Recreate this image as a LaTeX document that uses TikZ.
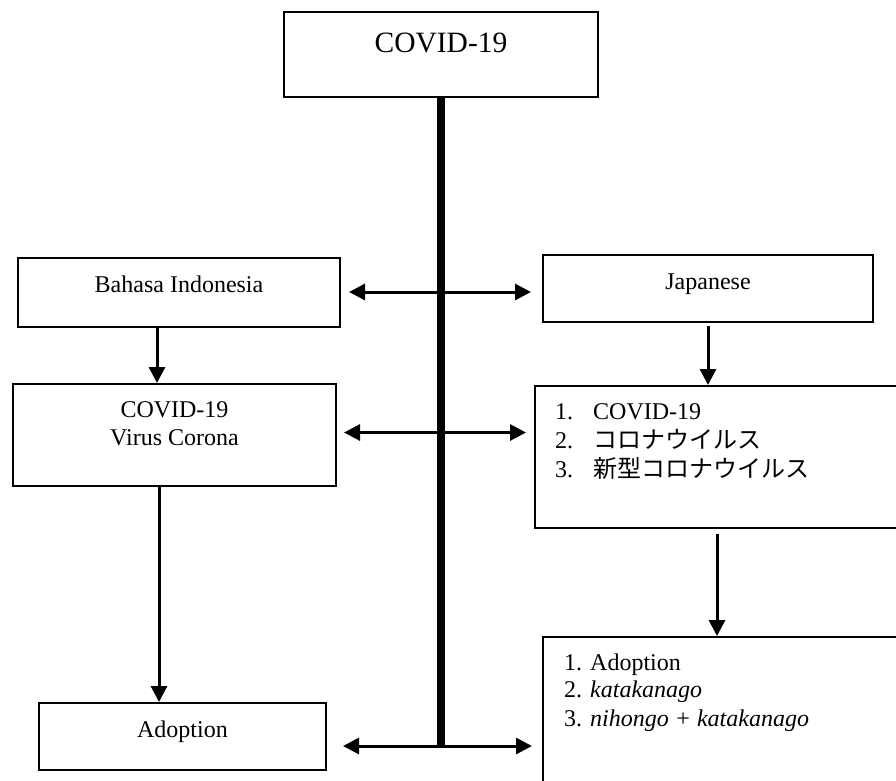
\documentclass[tikz,border=0pt]{standalone}
\usepackage{fontspec}
\setmainfont{Liberation Serif}
\newfontfamily\jpfont{Noto Sans CJK JP}
\usetikzlibrary{arrows.meta,calc}

\tikzset{
  box/.style={draw, line width=2pt, inner sep=0pt, rectangle},
  txt/.style={inner sep=0pt, anchor=base, font=\fontsize{24pt}{29pt}\selectfont},
  txtl/.style={txt, anchor=base west},
  tip/.tip={Triangle[length=16pt,width=16pt]},
  link/.style={line width=3pt, -tip},
  twoway/.style={line width=3pt, tip-tip},
  spine/.style={line width=8pt},
}

\begin{document}
\begin{tikzpicture}[x=1pt,y=-1pt]
\useasboundingbox (0,0) rectangle (896,780);

% boxes
\node[box, minimum width=314pt, minimum height=85pt]  (top)      at (441,54.5)  {};
\node[box, minimum width=322pt, minimum height=69pt]  (bahasa)   at (179,292.5) {};
\node[box, minimum width=330pt, minimum height=67pt]  (japanese) at (708,288.5) {};
\node[box, minimum width=323pt, minimum height=102pt] (virus)    at (174.5,435) {};
\node[box, minimum width=370pt, minimum height=142pt] (jplist)   at (720,457)   {};
\node[box, minimum width=287pt, minimum height=67pt]  (adopt)    at (182.5,736.5) {};
\node[box, minimum width=362pt, minimum height=163pt] (jpadopt)  at (724,718.5) {};

% texts
\node[txt, font=\fontsize{29.5pt}{34pt}\selectfont] (topT) at (441,52) {COVID-19};
\node[txt] (bahasaT)   at (179,292) {Bahasa Indonesia};
\node[txt] (japaneseT) at (708,289) {Japanese};
\node[txt] (virusA)    at (174.5,417) {COVID-19};
\node[txt] (virusB)    at (174.5,445) {Virus Corona};
\node[txt] (adoptT)    at (182.5,737) {Adoption};

\node[txtl] (n1) at (555,419) {1.};
\node[txtl] (n2) at (555,448) {2.};
\node[txtl] (n3) at (555,477) {3.};
\node[txtl] (l1) at (593,419) {COVID-19};
\node[txtl] (l2) at (593,448) {\jpfont コロナウイルス};
\node[txtl] (l3) at (593,477) {\jpfont 新型コロナウイルス};

\node[txtl] (a1) at (564,670) {1. Adoption};
\node[txtl] (a2) at (564,697) {2. \textit{katakanago}};
\node[txtl] (a3) at (564,726) {3. \textit{nihongo + katakanago}};

% central spine
\coordinate (spineEnd) at (441,747);
\draw[spine] (top.south) -- (spineEnd);

% two-way arrows across the spine
\coordinate (r1) at (441,292);
\coordinate (r2) at (441,432.5);
\coordinate (r3) at (441,746);
\draw[twoway, shorten <=8pt, shorten >=11pt] (r1 -| bahasa.east) -- (r1 -| japanese.west);
\draw[twoway, shorten <=7pt, shorten >=8pt]  (r2 -| virus.east)  -- (r2 -| jplist.west);
\draw[twoway, shorten <=16pt, shorten >=10pt] (r3 -| adopt.east) -- (r3 -| jpadopt.west);

% vertical flow
\draw[link] ([xshift=-22pt]bahasa.south) -- ([xshift=-22pt]bahasa.south |- virus.north);
\draw[link] ([xshift=-15.5pt]virus.south) -- ([xshift=-15.5pt]virus.south |- adopt.north);
\draw[link, shorten <=3pt] (japanese.south) -- (japanese.south |- jplist.north);
\draw[link, shorten <=5pt] ([xshift=-3pt]jplist.south) -- ([xshift=-3pt]jplist.south |- jpadopt.north);
\end{tikzpicture}
\end{document}
